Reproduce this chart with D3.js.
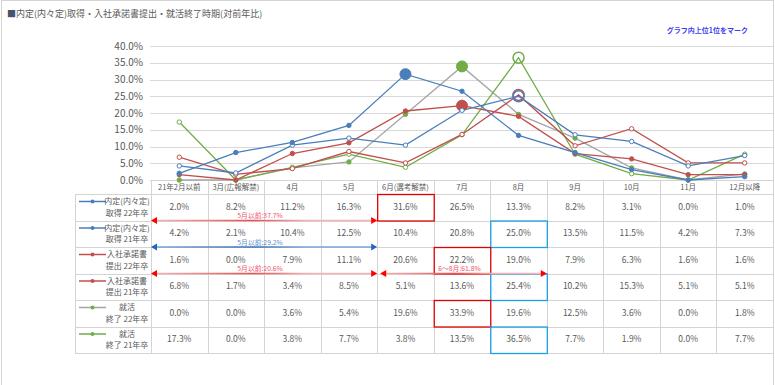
<!DOCTYPE html>
<html>
<head>
<meta charset="utf-8">
<script src="https://cdn.jsdelivr.net/npm/d3@7"></script>
<style>
  body { margin: 0; background: #fff; }
  svg text { font-family: "Noto Sans CJK JP", "Noto Sans", sans-serif; }
</style>
</head>
<body>
<div id="chart-area"></div>
<script>
// data
var months = ["21年2月以前", "3月(広報解禁)", "4月", "5月", "6月(選考解禁)", "7月", "8月", "9月", "10月", "11月", "12月以降"];
var naitei22 = [2.0, 8.2, 11.2, 16.3, 31.6, 26.5, 13.3, 8.2, 3.1, 0.0, 1.0];
var naitei21 = [4.2, 2.1, 10.4, 12.5, 10.4, 20.8, 25.0, 13.5, 11.5, 4.2, 7.3];
var shodaku22 = [1.6, 0.0, 7.9, 11.1, 20.6, 22.2, 19.0, 7.9, 6.3, 1.6, 1.6];
var shodaku21 = [6.8, 1.7, 3.4, 8.5, 5.1, 13.6, 25.4, 10.2, 15.3, 5.1, 5.1];
var shukatsu22 = [0.0, 0.0, 3.6, 5.4, 19.6, 33.9, 19.6, 12.5, 3.6, 0.0, 1.8];
var shukatsu21 = [17.3, 0.0, 3.8, 7.7, 3.8, 13.5, 36.5, 7.7, 1.9, 0.0, 7.7];
var rowLabels = [["内定(内々定)", "取得 22年卒"], ["内定(内々定)", "取得 21年卒"], ["入社承諾書", "提出 22年卒"],
                 ["入社承諾書", "提出 21年卒"], ["就活", "終了 22年卒"], ["就活", "終了 21年卒"]];
var yTicks = [0, 5, 10, 15, 20, 25, 30, 35, 40];
// row, first month, month the arrow ends on, text
var notes = [
  [0, 0, 4, "5月以前:37.7%"],
  [1, 0, 4, "5月以前:29.2%"],
  [2, 0, 4, "5月以前:20.6%"],
  [2, 4, 7, "6～8月:61.8%"]
];

var blue = "#4a7ebb", red = "#c0504d", gray = "#a5a5a5", green = "#70ad47";
var series = [
  { values: naitei22, line: blue, dot: blue, open: false },
  { values: naitei21, line: blue, dot: blue, open: true },
  { values: shodaku22, line: red, dot: red, open: false },
  { values: shodaku21, line: red, dot: red, open: true },
  { values: shukatsu22, line: gray, dot: green, open: false },
  { values: shukatsu21, line: green, dot: green, open: true }
];

var W = 775, H = 385;
var svg = d3.select("#chart-area").append("svg")
  .attr("width", W).attr("height", H);

// frame
svg.append("rect")
  .attr("x", 1.5).attr("y", 0.5).attr("width", 772).attr("height", H + 5)
  .attr("fill", "none").attr("stroke", "#d4d4d4");

// title
var title = svg.append("text").attr("x", 7).attr("y", 17)
  .attr("font-size", "9px").attr("fill", "#595959");
title.append("tspan").attr("fill", "#44546a").text("■");
title.append("tspan").text("内定(内々定)取得・入社承諾書提出・就活終了時期(対前年比)");

svg.append("text").attr("x", 748).attr("y", 33).attr("text-anchor", "end")
  .attr("font-size", "7px").attr("font-weight", "bold").attr("fill", "#3c3cf0")
  .text("グラフ内上位1位をマーク");

var x = d3.scaleBand().domain(months).range([151, 773]);
var y = d3.scaleLinear().domain([0, 40]).range([180, 46]);

// gridlines + y labels
svg.append("g").selectAll("line").data(yTicks).enter().append("line")
  .attr("x1", 150).attr("x2", 773)
  .attr("y1", function(d) { return Math.round(y(d)) + 0.5; })
  .attr("y2", function(d) { return Math.round(y(d)) + 0.5; })
  .attr("stroke", "#d9d9d9");
svg.append("g").selectAll("text").data(yTicks).enter().append("text")
  .attr("x", 143).attr("y", function(d) { return y(d); })
  .attr("dy", "0.35em").attr("text-anchor", "end")
  .attr("font-size", "10px").attr("fill", "#595959")
  .text(function(d) { return d.toFixed(1) + "%"; });

// table
var rows = d3.scaleBand().domain(d3.range(6)).range([194, 353]);
var tbl = svg.append("g");
var gridC = "#d4d4d4";
tbl.append("line").attr("x1", 151).attr("x2", 773).attr("y1", 180.5).attr("y2", 180.5).attr("stroke", gridC);
d3.range(7).forEach(function(i) {
  var yy = Math.round(194 + i * rows.bandwidth()) + 0.5;
  tbl.append("line").attr("x1", 75).attr("x2", 773).attr("y1", yy).attr("y2", yy).attr("stroke", gridC);
});
tbl.append("line").attr("x1", 75.5).attr("x2", 75.5).attr("y1", 194).attr("y2", 353).attr("stroke", gridC);
months.concat([null]).forEach(function(m, i) {
  var xx = Math.round(151 + i * x.bandwidth()) + 0.5;
  tbl.append("line").attr("x1", xx).attr("x2", xx).attr("y1", 180).attr("y2", 353).attr("stroke", gridC);
});

// header
tbl.selectAll(".hdr").data(months).enter().append("text")
  .attr("x", function(d) { return x(d) + x.bandwidth() / 2; })
  .attr("y", 187).attr("dy", "0.35em").attr("text-anchor", "middle")
  .attr("font-size", "7.5px").attr("fill", "#595959")
  .text(function(d) { return d; });

// row labels with legend keys
series.forEach(function(s, i) {
  var top = rows(i);
  var g = tbl.append("g");
  g.append("line").attr("x1", 79).attr("x2", 106).attr("y1", top + 7.5).attr("y2", top + 7.5)
    .attr("stroke", s.line).attr("stroke-width", 1.5);
  g.append("circle").attr("cx", 92.5).attr("cy", top + 7.5).attr("r", 2)
    .attr("fill", s.dot);
  g.append("text").attr("x", 127).attr("y", top + 7.5).attr("dy", "0.35em")
    .attr("text-anchor", "middle").attr("font-size", "8px").attr("fill", "#595959")
    .text(rowLabels[i][0]);
  g.append("text").attr("x", 127).attr("y", top + 19).attr("dy", "0.35em")
    .attr("text-anchor", "middle").attr("font-size", "8px").attr("fill", "#595959")
    .text(rowLabels[i][1]);

  g.selectAll(".val").data(s.values).enter().append("text")
    .attr("x", function(d, j) { return x(months[j]) + x.bandwidth() / 2; })
    .attr("y", top + rows.bandwidth() / 2 - 0.5).attr("dy", "0.35em")
    .attr("text-anchor", "middle").attr("font-size", "8.5px").attr("fill", "#595959")
    .text(function(d) { return d.toFixed(1) + "%"; });
});

// highlight boxes for the top month of each row
series.forEach(function(s, i) {
  var j = d3.maxIndex(s.values);
  tbl.append("rect")
    .attr("x", x(months[j]) + 0.5).attr("y", rows(i) + 0.5)
    .attr("width", x.bandwidth()).attr("height", rows.bandwidth())
    .attr("fill", "none").attr("stroke", s.open ? "#1ba1e2" : "#e00000")
    .attr("stroke-width", 1.3);
});

// arrows
var defs = svg.append("defs");
function grad(id, light, dark) {
  var lg = defs.append("linearGradient").attr("id", id);
  lg.append("stop").attr("offset", "0%").attr("stop-color", light);
  lg.append("stop").attr("offset", "45%").attr("stop-color", dark);
  lg.append("stop").attr("offset", "70%").attr("stop-color", light);
  lg.append("stop").attr("offset", "100%").attr("stop-color", light);
}
grad("gRed", "#f6b3b3", "#e8504f");
grad("gBlue", "#7ea6d6", "#3b70b8");

notes.forEach(function(n) {
  var isBlue = n[0] === 1;
  var x1 = x(months[n[1]]) + (n[1] > 0 ? 3 : 0), x2 = x(months[n[2]]);
  var yy = rows(n[0]) + rows.bandwidth();
  var head = isBlue ? "#1f66c0" : "#ff0000";
  svg.append("rect").attr("x", x1 + 4).attr("y", yy - 0.75).attr("width", x2 - x1 - 8).attr("height", 1.5)
    .attr("fill", isBlue ? "url(#gBlue)" : "url(#gRed)");
  svg.append("path").attr("d", "M" + x1 + "," + yy + "l6,-3.5v7z").attr("fill", head);
  svg.append("path").attr("d", "M" + x2 + "," + yy + "l-6,-3.5v7z").attr("fill", head);
  svg.append("text").attr("x", (x1 + x2) / 2 - 4).attr("y", yy - 2.2)
    .attr("text-anchor", "middle").attr("font-size", "6.8px")
    .attr("fill", isBlue ? "#5b8fd0" : "#f0506a")
    .text(n[3]);
});

// lines
var line = d3.line()
  .x(function(d, j) { return x(months[j]) + x.bandwidth() / 2; })
  .y(function(d) { return y(d); });

var order = [4, 5, 3, 2, 1, 0];
order.forEach(function(i) {
  var s = series[i];
  svg.append("path").datum(s.values).attr("d", line)
    .attr("fill", "none").attr("stroke", s.line).attr("stroke-width", 1.3);
});
order.forEach(function(i) {
  var s = series[i];
  var top = d3.maxIndex(s.values);
  svg.append("g").selectAll("circle").data(s.values).enter().append("circle")
    .attr("cx", function(d, j) { return x(months[j]) + x.bandwidth() / 2; })
    .attr("cy", function(d) { return y(d); })
    .attr("r", function(d, j) { return j === top ? 5.5 : 2.2; })
    .attr("fill", function(d, j) { return s.open ? (j === top ? "none" : "#fff") : s.dot; })
    .attr("stroke", s.dot).attr("stroke-width", function(d, j) { return j === top && s.open ? 1.5 : 1; });
});
</script>
</body>
</html>
